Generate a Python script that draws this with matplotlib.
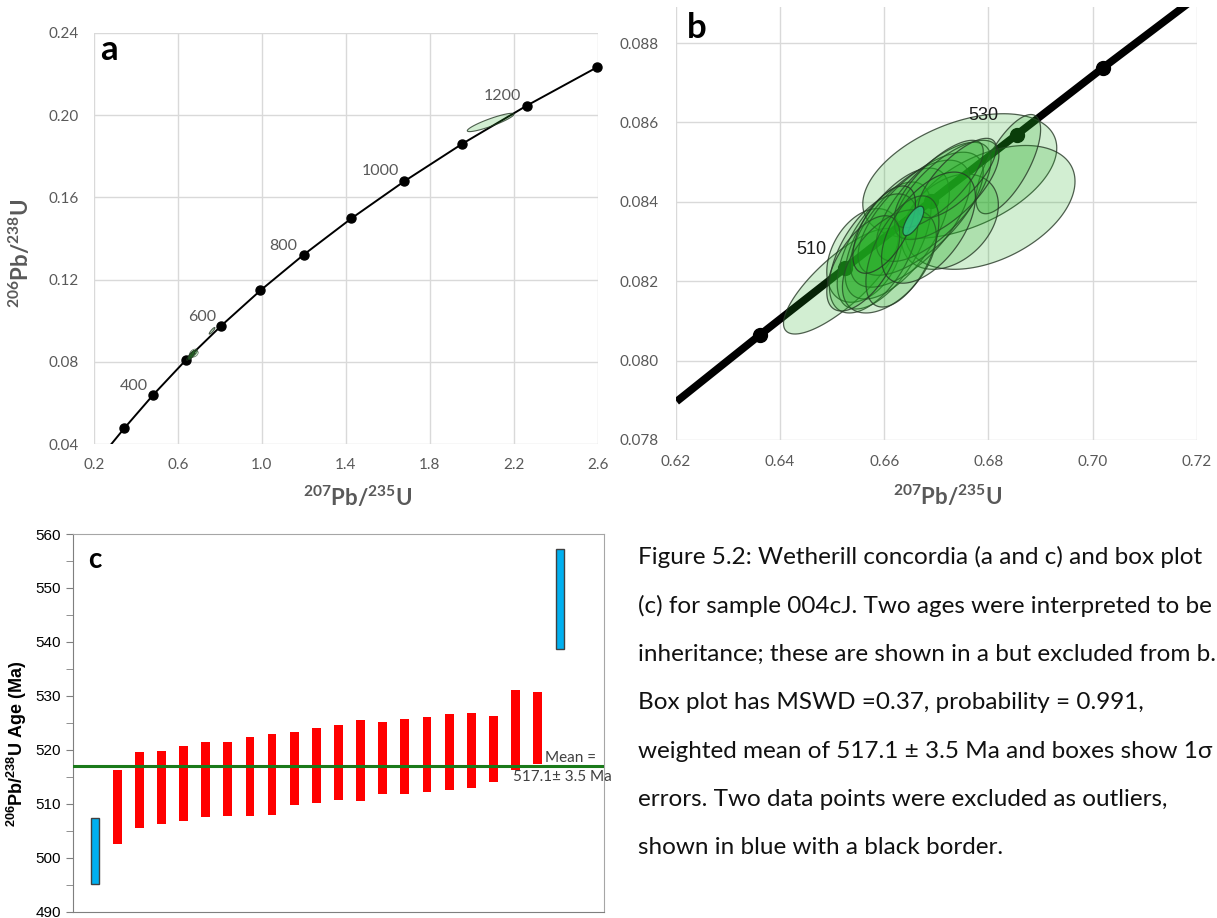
import numpy as np
import matplotlib
matplotlib.use('Agg')
import matplotlib.pyplot as plt
from matplotlib.patches import Polygon

plt.rcParams['mathtext.fontset'] = 'custom'
plt.rcParams['mathtext.rm'] = 'Lato'
plt.rcParams['mathtext.bf'] = 'Lato:bold'
plt.rcParams['mathtext.sf'] = 'Liberation Sans:bold'

# ---- panel a: concordia (207Pb/235U, 206Pb/238U), markers every 100 Ma ----
conc_a_age = [300, 400, 500, 600, 700, 800, 900, 1000, 1100, 1200, 1300]
conc_a_x = [0.3438, 0.4828, 0.6362, 0.8056, 0.9925, 1.1987, 1.4264, 1.6774, 1.9545, 2.2604, 2.5977]
conc_a_y = [0.0476, 0.0640, 0.0807, 0.0975, 0.1147, 0.1321, 0.1498, 0.1678, 0.1861, 0.2046, 0.2234]
conc_a_start = (0.279, 0.0395)  # where the curve leaves the bottom axis
label_a_age = [400, 600, 800, 1000, 1200]
label_a_x = [0.390, 0.714, 1.103, 1.562, 2.143]
label_a_y = [0.0682, 0.1018, 0.1363, 0.1726, 0.2091]

# inherited grains (shown only in a): cx, cy, half-width x, half-width y, rho
inh_cx = [2.089, 0.7625]
inh_cy = [0.19645, 0.0951]
inh_hx = [0.111, 0.0135]
inh_hy = [0.00445, 0.0016]
inh_rho = [0.90, 0.90]

# ---- panel b: concordia segment 490-550 Ma ----
conc_b_age = [490, 500, 510, 520, 530, 540, 550]
conc_b_x = [0.6202, 0.6362, 0.6525, 0.6689, 0.6854, 0.7020, 0.7189]
conc_b_y = [0.07897, 0.08065, 0.08233, 0.08401, 0.08569, 0.08738, 0.08906]
mark_b_age = [500, 510, 520, 530, 540]
label_b_age = [510, 530]
label_b_x = [0.6461, 0.6790]
label_b_y = [0.08280, 0.08617]

# error ellipses of the main population
ell_cx = [0.6745, 0.6803, 0.6517, 0.6838, 0.6562, 0.6726,
          0.6600, 0.6625, 0.6650, 0.6670, 0.6695, 0.6720, 0.6580,
          0.6610, 0.6705, 0.6740, 0.6635, 0.6560, 0.6685, 0.6600]
ell_cy = [0.08465, 0.08386, 0.08200, 0.08495, 0.08265, 0.08350,
          0.08290, 0.08320, 0.08345, 0.08370, 0.08400, 0.08430, 0.08270,
          0.08250, 0.08445, 0.08460, 0.08275, 0.08245, 0.08335, 0.08330]
ell_hx = [0.0186, 0.0163, 0.0110, 0.0062, 0.0072, 0.0093,
          0.0090, 0.0100, 0.0115, 0.0120, 0.0110, 0.0100, 0.0085,
          0.0090, 0.0085, 0.0075, 0.0070, 0.0070, 0.0090, 0.0060]
ell_hy = [0.00157, 0.00156, 0.00133, 0.00125, 0.00118, 0.00120,
          0.00160, 0.00165, 0.00160, 0.00155, 0.00150, 0.00125, 0.00150,
          0.00130, 0.00110, 0.00100, 0.00140, 0.00120, 0.00140, 0.00110]
ell_rho = [0.45, 0.42, 0.80, 0.70, 0.35, 0.35,
           0.60, 0.62, 0.65, 0.68, 0.70, 0.70, 0.55,
           0.50, 0.75, 0.75, 0.55, 0.60, 0.55, 0.60]
# small high-precision analysis (teal)
teal = (0.6656, 0.08352, 0.0020, 0.00037, 0.7)

# ---- panel c: 206Pb/238U ages, 1 sigma boxes ----
box_lo = [495.1, 502.6, 505.6, 506.3, 506.9, 507.6, 507.7, 507.7, 507.9, 509.7, 510.2,
          510.8, 510.5, 511.8, 511.8, 512.1, 512.5, 512.9, 514.0, 516.2, 517.3, 538.7]
box_hi = [507.3, 516.3, 519.6, 519.8, 520.8, 521.4, 521.4, 522.3, 522.9, 523.4, 524.1,
          524.6, 525.5, 525.2, 525.8, 526.0, 526.6, 526.9, 526.3, 531.0, 530.7, 557.3]
box_outlier = [True] + [False] * 20 + [True]
wmean = 517.1
wmean_err = 3.5

caption = [
    "Figure 5.2: Wetherill concordia (a and c) and box plot",
    "(c) for sample 004cJ. Two ages were interpreted to be",
    "inheritance; these are shown in a but excluded from b.",
    "Box plot has MSWD =0.37, probability = 0.991,",
    "weighted mean of 517.1 \u00b1 3.5 Ma and boxes show 1\u03c3",
    "errors. Two data points were excluded as outliers,",
    "shown in blue with a black border.",
]

GREY = '#595959'
FILL = (0.12, 0.67, 0.12, 0.2)
EDGE = (0.15, 0.22, 0.15, 0.8)


def ellipse(ax, cx, cy, hx, hy, rho, fc=FILL, ec=EDGE, lw=0.9, z=3):
    t = np.linspace(0, 2 * np.pi, 150)
    x = cx + hx * np.cos(t)
    y = cy + hy * (rho * np.cos(t) + np.sqrt(1 - rho ** 2) * np.sin(t))
    ax.add_patch(Polygon(np.column_stack([x, y]), closed=True, fc=fc, ec=ec, lw=lw, zorder=z))


def grey_axes(ax):
    for s in ax.spines.values():
        s.set_visible(False)
    ax.grid(True, color='#d9d9d9', lw=1)
    ax.set_axisbelow(True)
    ax.tick_params(length=0, labelcolor=GREY, labelsize=11)
    for lab in ax.get_xticklabels() + ax.get_yticklabels():
        lab.set_fontfamily('Lato')


fig = plt.figure(figsize=(12.17, 9.18), dpi=100)

# ---------------- a ----------------
axa = fig.add_axes([0.0772, 0.5163, 0.4141, 0.4478])
axa.set_xlim(0.2, 2.6)
axa.set_ylim(0.04, 0.24)
axa.set_xticks(np.arange(0.2, 2.61, 0.4))
axa.set_yticks(np.arange(0.04, 0.241, 0.04))
axa.set_xticklabels([f'{v:.1f}' for v in np.arange(0.2, 2.61, 0.4)])
axa.set_yticklabels([f'{v:.2f}' for v in np.arange(0.04, 0.241, 0.04)])
grey_axes(axa)
axa.tick_params(axis='y', pad=11)
axa.tick_params(axis='x', pad=10)
axa.plot([conc_a_start[0]] + conc_a_x, [conc_a_start[1]] + conc_a_y, color='black', lw=1.4, zorder=2)
axa.plot(conc_a_x, conc_a_y, 'o', color='black', ms=6.5, zorder=2, clip_on=False)
for ag, lx, ly in zip(label_a_age, label_a_x, label_a_y):
    axa.text(lx, ly, str(ag), color=GREY, fontsize=11.5, family='Lato', ha='center', va='center')
for i in range(len(ell_cx)):
    ellipse(axa, ell_cx[i], ell_cy[i], ell_hx[i], ell_hy[i], ell_rho[i], lw=0.4)
for i in range(len(inh_cx)):
    ellipse(axa, inh_cx[i], inh_cy[i], inh_hx[i], inh_hy[i], inh_rho[i], lw=0.8)
axa.set_xlabel(r'$\mathbf{^{207}}$Pb/$\mathbf{^{235}}$U', fontsize=16, fontweight='bold',
               family='Lato', color=GREY)
axa.set_ylabel(r'$\mathbf{^{206}}$Pb/$\mathbf{^{238}}$U', fontsize=16, fontweight='bold',
               family='Lato', color=GREY)
axa.xaxis.set_label_coords(0.524, -0.100)
axa.yaxis.set_label_coords(-0.121, 0.465)
axa.text(0.012, 0.934, 'a', transform=axa.transAxes, fontsize=25, fontweight='bold',
         family='Lato', va='baseline')

# ---------------- b ----------------
axb = fig.add_axes([0.5551, 0.5207, 0.4285, 0.4713])
axb.set_xlim(0.62, 0.72)
axb.set_ylim(0.078, 0.0889)
xb = np.arange(0.62, 0.7201, 0.02)
yb = np.arange(0.078, 0.08801, 0.002)
axb.set_xticks(xb)
axb.set_yticks(yb)
axb.set_xticklabels([f'{v:.2f}' for v in xb])
axb.set_yticklabels([f'{v:.3f}' for v in yb])
grey_axes(axb)
axb.tick_params(axis='y', pad=12)
axb.tick_params(axis='x', pad=11)
axb.plot(conc_b_x, conc_b_y, color='black', lw=5.5, zorder=2, solid_capstyle='butt')
mk = [conc_b_age.index(a) for a in mark_b_age]
axb.plot([conc_b_x[i] for i in mk], [conc_b_y[i] for i in mk], 'o', color='black', ms=10, zorder=2)
for i in range(len(ell_cx)):
    ellipse(axb, ell_cx[i], ell_cy[i], ell_hx[i], ell_hy[i], ell_rho[i])
ellipse(axb, *teal, fc=(0.18, 0.75, 0.5, 0.85), ec=(0.1, 0.25, 0.15, 0.8), z=4)
for ag, lx, ly in zip(label_b_age, label_b_x, label_b_y):
    axb.text(lx, ly, str(ag), color='#1a1a1a', fontsize=13, family='Liberation Sans',
             ha='center', va='center', zorder=5)
axb.set_xlabel(r'$\mathbf{^{207}}$Pb/$\mathbf{^{235}}$U', fontsize=16, fontweight='bold',
               family='Lato', color=GREY)
axb.xaxis.set_label_coords(0.5225, -0.102)
axb.text(0.022, 0.929, 'b', transform=axb.transAxes, fontsize=25, fontweight='bold',
         family='Lato', va='baseline')

# ---------------- c ----------------
axc = fig.add_axes([0.0599, 0.0068, 0.4364, 0.4115])
axc.set_xlim(0, 24)
axc.set_ylim(490, 560)
axc.set_yticks(np.arange(490, 561, 10))
axc.set_yticks(np.arange(495, 560, 10), minor=True)
axc.set_xticks([])
axc.tick_params(axis='y', which='both', length=5, color='#7f7f7f', labelsize=11)
for lab in axc.get_yticklabels():
    lab.set_fontfamily('Liberation Sans')
for name, s in axc.spines.items():
    s.set_color('#a6a6a6' if name in ('top', 'right') else '#7f7f7f')
pos = np.arange(1, len(box_lo) + 1)
for p, lo, hi, out in zip(pos, box_lo, box_hi, box_outlier):
    if out:
        axc.bar(p, hi - lo, bottom=lo, width=0.36, color='#00b0f0', edgecolor='#404040', lw=1, zorder=3)
    else:
        axc.bar(p, hi - lo, bottom=lo, width=0.4, color='#ff0000', lw=0, zorder=3)
axc.axhline(wmean, color='#1a7a1a', lw=2.2, zorder=4)
axc.text(21.33, 518.5, 'Mean =', fontsize=11, family='Lato', color='#404040', va='center', zorder=5)
axc.text(19.88, 514.9, f'{wmean}\u00b1 {wmean_err} Ma', fontsize=11, family='Lato', color='#404040',
         va='center', zorder=5)
axc.set_ylabel(r'$\mathsf{^{206}}$Pb/$\mathsf{^{238}}$U Age (Ma)', fontsize=13, fontweight='bold',
               family='Liberation Sans')
axc.yaxis.set_label_coords(-0.0827, 0.444)
axc.text(0.028, 0.911, 'c', transform=axc.transAxes, fontsize=20, fontweight='bold',
         family='Lato', va='baseline')

# ---------------- caption ----------------
for i, line in enumerate(caption):
    fig.text(638 / 1217, 1 - (557 + 48.5 * i) / 918, line, fontsize=17.5, family='Lato',
             color='#111111', ha='left', va='center')

fig.savefig('out.png', dpi=100)
